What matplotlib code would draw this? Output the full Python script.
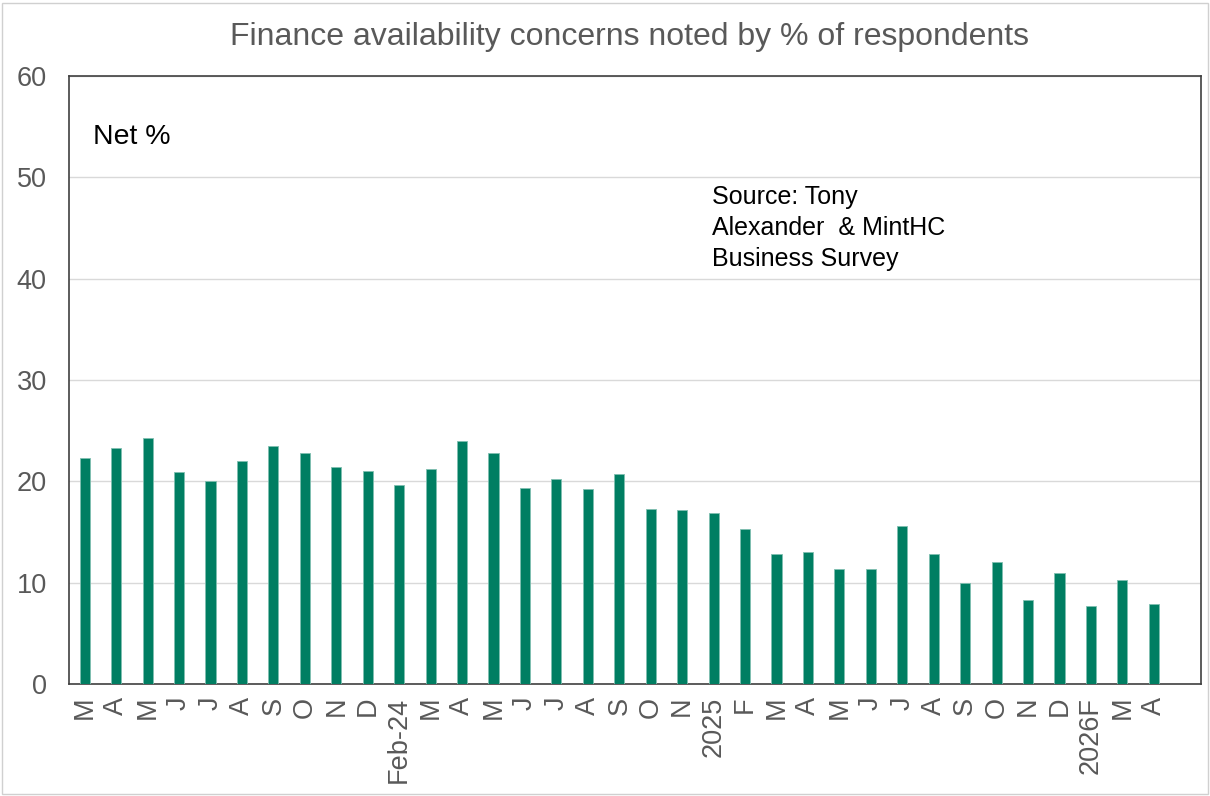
import matplotlib
matplotlib.use("Agg")
import matplotlib.pyplot as plt
from matplotlib.patches import Rectangle

plt.rcParams['font.family'] = ['Liberation Sans', 'DejaVu Sans']

# monthly survey readings, Mar-23 through Apr-26 (last slot left empty)
months = ["M", "A", "M", "J", "J", "A", "S", "O", "N", "D", "Feb-24",
          "M", "A", "M", "J", "J", "A", "S", "O", "N", "2025",
          "F", "M", "A", "M", "J", "J", "A", "S", "O", "N", "D",
          "2026F", "M", "A", ""]
net_pct = [22.3, 23.3, 24.3, 20.9, 20.0, 22.0, 23.5, 22.8, 21.4, 21.0, 19.6,
           21.2, 24.0, 22.8, 19.3, 20.2, 19.2, 20.7, 17.3, 17.2, 16.9,
           15.3, 12.8, 13.0, 11.3, 11.3, 15.6, 12.8, 10.0, 12.0, 8.3, 11.0,
           7.7, 10.3, 7.9]
yticks = [0, 10, 20, 30, 40, 50, 60]

bar_color = "#007E62"
text_grey = "#595959"

fig = plt.figure(figsize=(12.10, 7.96), dpi=100)
ax = fig.add_axes([69 / 1210, 1 - 684 / 796, 1132 / 1210, 608 / 796])

x = list(range(len(net_pct)))
ax.bar(x, net_pct, width=0.32, color=bar_color, edgecolor="#7fbfb0",
       linewidth=0.6, zorder=3)

ax.set_xlim(-0.5, len(months) - 0.5)
ax.set_ylim(0, 60)
ax.set_yticks(yticks)
ax.set_xticks(range(len(months)))
ax.set_xticklabels(months, rotation=90, va="top", ha="center")
ax.tick_params(axis="both", length=0, labelsize=19.5, colors=text_grey)
ax.tick_params(axis="x", pad=9)
ax.tick_params(axis="y", pad=16)
ax.grid(axis="y", color="#d9d9d9", linewidth=1.0, zorder=0)

for side in ax.spines.values():
    side.set_color("#404040")
    side.set_linewidth(1.2)

fig.text(630 / 1210, 1 - 37 / 796, "Finance availability concerns noted by % of respondents",
         ha="center", va="center", fontsize=23, color=text_grey)

ax.text(93 / 1210, 1 - 137 / 796, "Net %", transform=fig.transFigure,
        ha="left", va="center", fontsize=20.5, color="black")
ax.text(712 / 1210, 1 - 185 / 796, "Source: Tony\nAlexander  & MintHC\nBusiness Survey",
        transform=fig.transFigure, ha="left", va="top", fontsize=18,
        color="black", linespacing=1.37)

# light frame round the whole chart area
fig.patches.append(Rectangle((0.002, 0.002), 0.996, 0.994, transform=fig.transFigure,
                             fill=False, edgecolor="#d0d0d0", linewidth=1.0))

fig.savefig("out.png", dpi=100, facecolor="white")
